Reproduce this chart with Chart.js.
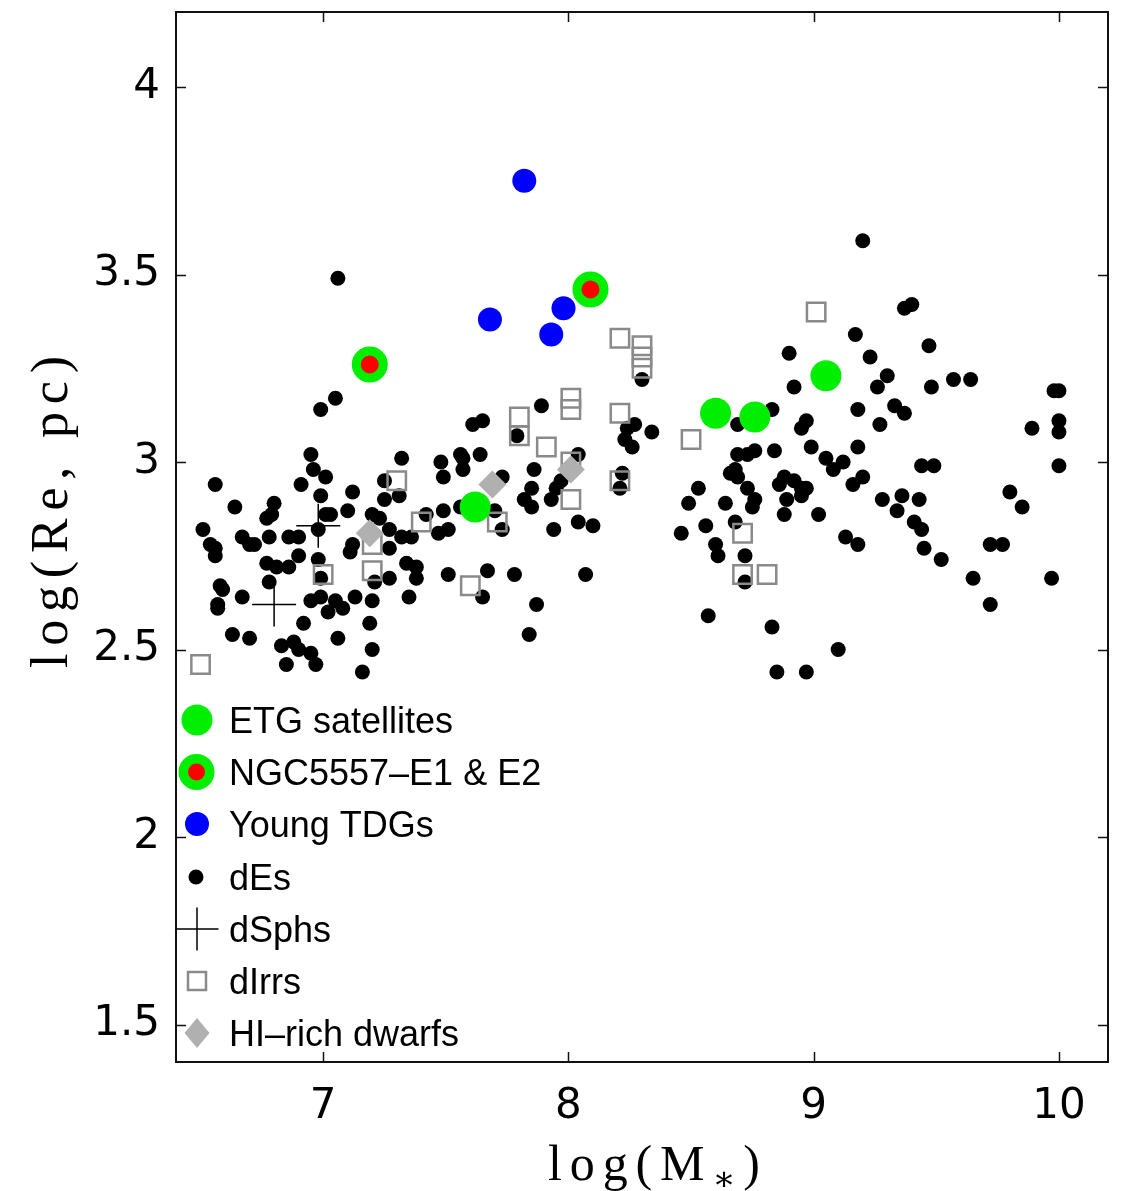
<!DOCTYPE html>
<html><head><meta charset="utf-8">
<script src="https://cdn.jsdelivr.net/npm/chart.js@4.4.0/dist/chart.umd.min.js"></script>
<style>html,body{margin:0;padding:0;background:#fff;}canvas{display:block;}</style>
</head><body>
<canvas id="c" width="1126" height="1191"></canvas>
<script>
// ---- tick values ----
const xTicks = [7, 8, 9, 10];
const yTicks = [1.5, 2, 2.5, 3, 3.5, 4];
const xTitleText = ['log(M', '∗', ')'];
const yTitleText = 'log(Re, pc)';
const legendLabels = ['ETG satellites', 'NGC5557–E1 & E2', 'Young TDGs', 'dEs', 'dSphs', 'dIrrs', 'HI–rich dwarfs'];

// ---- series ----
const etgX = [7.62, 8.60, 8.76, 9.05];
const etgY = [2.88, 3.13, 3.12, 3.23];

const ngcX = [7.19, 8.09];
const ngcY = [3.26, 3.46];

const tdgX = [7.82, 7.68, 7.98, 7.93];
const tdgY = [3.75, 3.38, 3.41, 3.34];

const dSphX = [6.98, 6.80];
const dSphY = [2.83, 2.62];

const dIrrX = [6.50, 7.00, 7.20, 7.20, 7.30, 7.40, 7.60, 7.71, 7.80, 7.80, 7.91, 8.01, 8.01, 8.01, 8.01,
               8.21, 8.30, 8.30, 8.30, 8.21, 8.21, 8.50, 8.71, 8.71, 8.81, 9.01];
const dIrrY = [2.46, 2.70, 2.71, 2.78, 2.95, 2.84, 2.67, 2.84, 3.12, 3.07, 3.04, 3.17, 3.14, 3.00, 2.90,
               3.33, 3.31, 3.28, 3.25, 3.13, 2.95, 3.06, 2.81, 2.70, 2.70, 3.40];

const hiX = [7.19, 7.69, 8.01];
const hiY = [2.81, 2.94, 2.98];

const dEX = [
  7.06, 7.05, 6.99, 6.95, 6.96, 7.01, 6.91, 6.56, 7.12, 6.99, 6.80, 6.64, 7.01, 7.03, 7.10, 6.79, 6.77, 6.51,
  6.98, 6.67, 6.70, 6.72, 6.78, 6.86, 6.90, 6.54, 6.56, 6.56, 7.12, 7.11, 6.90, 6.98, 6.77, 6.81, 6.86, 6.99,
  6.78, 6.58, 6.59, 7.21, 6.67, 6.95, 6.99, 7.02, 7.05, 7.08, 7.13, 7.20, 6.57, 6.57, 6.92, 7.19, 6.63, 6.70,
  6.83, 6.88, 6.90, 7.06, 7.20, 6.95, 6.97, 6.85, 7.16,
  7.65, 7.61, 7.79, 7.89, 7.32, 7.48, 7.56, 7.57, 7.64, 7.57, 7.49, 7.86, 7.25, 7.73, 7.85, 7.31, 7.25, 7.82,
  7.85, 7.56, 7.49, 7.70, 7.20, 7.23, 7.27, 7.42, 7.51, 7.47, 7.73, 7.32, 7.36, 7.27, 7.34, 7.38, 7.38, 7.51,
  7.67, 7.78, 7.27, 7.35, 7.65, 7.87, 7.84,
  8.30, 8.27, 8.24, 8.23, 8.26, 8.34, 8.04, 8.22, 8.21, 7.97, 7.95, 7.93, 7.94, 8.04, 8.10, 8.46, 8.07,
  8.92, 8.83, 8.69, 8.97, 8.95, 9.18, 8.69, 8.73, 8.76, 8.84, 8.99, 9.05, 9.08, 9.12, 9.18, 8.68, 8.66, 8.69,
  8.53, 8.88, 8.86, 8.92, 8.95, 8.97, 8.95, 8.73, 8.89, 8.88, 8.76, 8.75, 8.49, 8.64, 9.02, 9.16, 8.68, 8.56,
  8.60, 8.61, 8.72, 8.72, 9.13, 9.18, 8.57, 8.83, 9.10, 8.85, 8.97, 8.90,
  9.20, 9.37, 9.40, 9.17, 9.47, 9.23, 9.30, 9.26, 9.48, 9.57, 9.64, 9.33, 9.37, 9.27, 9.98, 10.00, 9.89, 10.00,
  10.00, 9.44, 9.49, 9.20, 10.00, 9.80, 9.85, 9.28, 9.34, 9.36, 9.43, 9.41, 9.44, 9.45, 9.52, 9.65, 9.72, 9.77,
  9.97, 9.72
];
const dEY = [
  3.49, 3.17, 3.14, 3.02, 2.98, 2.96, 2.94, 2.94, 2.92, 2.91, 2.89, 2.88, 2.86, 2.86, 2.87, 2.86, 2.85, 2.82,
  2.82, 2.80, 2.78, 2.78, 2.80, 2.80, 2.80, 2.78, 2.77, 2.75, 2.78, 2.76, 2.75, 2.74, 2.73, 2.72, 2.72, 2.69,
  2.68, 2.67, 2.66, 2.68, 2.64, 2.63, 2.64, 2.60, 2.63, 2.61, 2.64, 2.63, 2.62, 2.61, 2.57, 2.57, 2.54, 2.53,
  2.51, 2.52, 2.50, 2.53, 2.50, 2.49, 2.46, 2.46, 2.44,
  3.11, 3.10, 3.07, 3.15, 3.01, 3.00, 3.02, 3.01, 3.02, 2.98, 2.96, 2.98, 2.95, 2.96, 2.93, 2.91, 2.90, 2.90,
  2.88, 2.88, 2.87, 2.87, 2.86, 2.85, 2.82, 2.86, 2.82, 2.81, 2.82, 2.80, 2.80, 2.77, 2.73, 2.72, 2.69, 2.70,
  2.71, 2.70, 2.69, 2.64, 2.64, 2.62, 2.54,
  3.22, 3.10, 3.09, 3.06, 3.04, 3.08, 3.02, 2.97, 2.93, 2.95, 2.93, 2.90, 2.82, 2.84, 2.83, 2.81, 2.70,
  3.20, 3.14, 3.10, 3.11, 3.09, 3.14, 3.02, 3.02, 3.03, 3.03, 3.04, 3.01, 2.98, 3.00, 3.04, 2.98, 2.97, 2.96,
  2.93, 2.96, 2.94, 2.95, 2.93, 2.93, 2.91, 2.93, 2.90, 2.86, 2.90, 2.88, 2.89, 2.89, 2.86, 2.94, 2.84, 2.83,
  2.78, 2.75, 2.75, 2.68, 2.80, 2.78, 2.59, 2.56, 2.50, 2.44, 2.44, 3.29,
  3.59, 3.41, 3.42, 3.34, 3.31, 3.28, 3.23, 3.20, 3.20, 3.22, 3.22, 3.15, 3.13, 3.10, 3.19, 3.19, 3.09, 3.11,
  3.08, 2.99, 2.99, 2.96, 2.99, 2.92, 2.88, 2.90, 2.87, 2.91, 2.90, 2.84, 2.82, 2.77, 2.74, 2.69, 2.78, 2.78,
  2.69, 2.62
];

const pts = (xs, ys) => xs.map((x, i) => ({ x: x, y: ys[i] }));

const GREEN = '#00ee00', RED = '#ff0000', BLUE = '#0000ff', GREY = '#8a8a8a', LGREY = '#b0b0b0';

const frameAndTitles = {
  id: 'frameAndTitles',
  afterDraw(chart) {
    const ctx = chart.ctx;
    const a = chart.chartArea;
    const xs = chart.scales.x, ys = chart.scales.y;
    ctx.save();
    ctx.strokeStyle = '#111';
    ctx.lineWidth = 2;
    ctx.strokeRect(a.left, a.top, a.right - a.left, a.bottom - a.top);
    const tl = 10;
    ctx.beginPath();
    xTicks.forEach(v => {
      const px = Math.round(xs.getPixelForValue(v)) + 0.5;
      ctx.moveTo(px, a.bottom); ctx.lineTo(px, a.bottom - tl);
      ctx.moveTo(px, a.top); ctx.lineTo(px, a.top + tl);
    });
    yTicks.forEach(v => {
      const py = Math.round(ys.getPixelForValue(v)) + 0.5;
      ctx.moveTo(a.left, py); ctx.lineTo(a.left + tl, py);
      ctx.moveTo(a.right, py); ctx.lineTo(a.right - tl, py);
    });
    ctx.lineWidth = 1.5;
    ctx.stroke();

    // legend
    const lx = 197, tx = 229;
    const baselines = [733, 785, 837, 890, 942, 994, 1046];
    ctx.font = '36px "Liberation Sans", Arial, sans-serif';
    ctx.fillStyle = '#000';
    ctx.textBaseline = 'alphabetic';
    ctx.textAlign = 'left';
    legendLabels.forEach((t, i) => ctx.fillText(t, tx, baselines[i]));
    const cy = baselines.map(b => b - 13);
    ctx.fillStyle = GREEN; ctx.beginPath(); ctx.arc(lx, cy[0], 15.5, 0, Math.PI * 2); ctx.fill();
    ctx.fillStyle = GREEN; ctx.beginPath(); ctx.arc(lx - 0.5, cy[1], 18, 0, Math.PI * 2); ctx.fill();
    ctx.fillStyle = RED; ctx.beginPath(); ctx.arc(lx - 0.5, cy[1], 8.5, 0, Math.PI * 2); ctx.fill();
    ctx.fillStyle = BLUE; ctx.beginPath(); ctx.arc(lx, cy[2], 12, 0, Math.PI * 2); ctx.fill();
    ctx.fillStyle = '#000'; ctx.beginPath(); ctx.arc(lx - 1, cy[3], 7.5, 0, Math.PI * 2); ctx.fill();
    ctx.strokeStyle = '#000'; ctx.lineWidth = 1.5; ctx.beginPath();
    ctx.moveTo(lx - 21.5, cy[4]); ctx.lineTo(lx + 21.5, cy[4]);
    ctx.moveTo(lx, cy[4] - 21.5); ctx.lineTo(lx, cy[4] + 21.5); ctx.stroke();
    ctx.strokeStyle = GREY; ctx.lineWidth = 2.5; ctx.strokeRect(lx - 9, cy[5] - 9, 18, 18);
    ctx.fillStyle = LGREY; ctx.beginPath();
    ctx.moveTo(lx, cy[6] - 15); ctx.lineTo(lx + 12.5, cy[6]); ctx.lineTo(lx, cy[6] + 15); ctx.lineTo(lx - 12.5, cy[6]);
    ctx.closePath(); ctx.fill();

    function spaced(parts, fonts, offsets, startX, baseY, targetW) {
      let chars = [];
      parts.forEach((p, k) => { for (const ch of p) chars.push({ ch: ch, f: fonts[k], dy: offsets[k] }); });
      let nat = 0;
      chars.forEach(c => { ctx.font = c.f; c.w = ctx.measureText(c.ch).width; nat += c.w; });
      const sp = (targetW - nat) / (chars.length - 1);
      let x = startX;
      chars.forEach(c => { ctx.font = c.f; ctx.fillText(c.ch, x, baseY + c.dy); x += c.w + sp; });
    }
    ctx.fillStyle = '#000';
    ctx.textAlign = 'left';
    ctx.textBaseline = 'alphabetic';
    spaced(xTitleText, ['50px "Liberation Serif", "Times New Roman", serif', '34px "DejaVu Serif", serif', '50px "Liberation Serif", "Times New Roman", serif'],
           [0, 10, 0], 548, 1180, 212);
    ctx.save();
    ctx.translate(67, 668);
    ctx.rotate(-Math.PI / 2);
    spaced([yTitleText], ['52px "Liberation Serif", "Times New Roman", serif'], [0], 0, 0, 312);
    ctx.restore();
    ctx.restore();
  }
};

const zeroPad = s => { s.paddingTop = 0; s.paddingBottom = 0; s.paddingLeft = 0; s.paddingRight = 0; };

new Chart(document.getElementById('c'), {
  type: 'scatter',
  data: {
    datasets: [
      { label: legendLabels[1], data: pts(ngcX, ngcY), pointStyle: 'circle', pointRadius: 13.5, pointBorderWidth: 9,
        pointBackgroundColor: RED, pointBorderColor: GREEN },
      { label: legendLabels[0], data: pts(etgX, etgY), pointStyle: 'circle', pointRadius: 15.5, pointBorderWidth: 0,
        pointBackgroundColor: GREEN, pointBorderColor: GREEN },
      { label: legendLabels[2], data: pts(tdgX, tdgY), pointStyle: 'circle', pointRadius: 12, pointBorderWidth: 0,
        pointBackgroundColor: BLUE, pointBorderColor: BLUE },
      { label: legendLabels[6], data: pts(hiX, hiY), pointStyle: 'rectRot', pointRadius: 14, pointBorderWidth: 0,
        pointBackgroundColor: LGREY, pointBorderColor: LGREY },
      { label: legendLabels[5], data: pts(dIrrX, dIrrY), pointStyle: 'rect', pointRadius: 13, pointBorderWidth: 2.5,
        pointBackgroundColor: 'rgba(0,0,0,0)', pointBorderColor: GREY },
      { label: legendLabels[3], data: pts(dEX, dEY), pointStyle: 'circle', pointRadius: 7.5, pointBorderWidth: 0,
        pointBackgroundColor: '#000', pointBorderColor: '#000' },
      { label: legendLabels[4], data: pts(dSphX, dSphY), pointStyle: 'cross', pointRadius: 22, pointBorderWidth: 1.5,
        pointBackgroundColor: '#000', pointBorderColor: '#000' }
    ]
  },
  options: {
    responsive: false,
    devicePixelRatio: 1,
    animation: false,
    events: [],
    layout: { autoPadding: false, padding: { top: 12, right: 18, left: 0, bottom: 0 } },
    plugins: { legend: { display: false }, tooltip: { enabled: false } },
    scales: {
      x: {
        type: 'linear', min: 6.4, max: 10.2,
        afterBuildTicks: s => { s.ticks = xTicks.map(v => ({ value: v })); },
        afterFit: s => { s.height = 129; zeroPad(s); },
        grid: { display: false, drawTicks: false },
        border: { display: false },
        ticks: { padding: 20, color: '#000', font: { family: '"DejaVu Sans", sans-serif', size: 42 },
                 maxRotation: 0, autoSkip: false, callback: v => String(v) }
      },
      y: {
        type: 'linear', min: 1.4, max: 4.2,
        afterBuildTicks: s => { s.ticks = yTicks.map(v => ({ value: v })); },
        afterFit: s => { s.width = 176; zeroPad(s); },
        grid: { display: false, drawTicks: false },
        border: { display: false },
        ticks: { padding: 16, color: '#000', font: { family: '"DejaVu Sans", sans-serif', size: 42 },
                 autoSkip: false, callback: v => String(v) }
      }
    }
  },
  plugins: [frameAndTitles]
});
</script>
</body></html>
